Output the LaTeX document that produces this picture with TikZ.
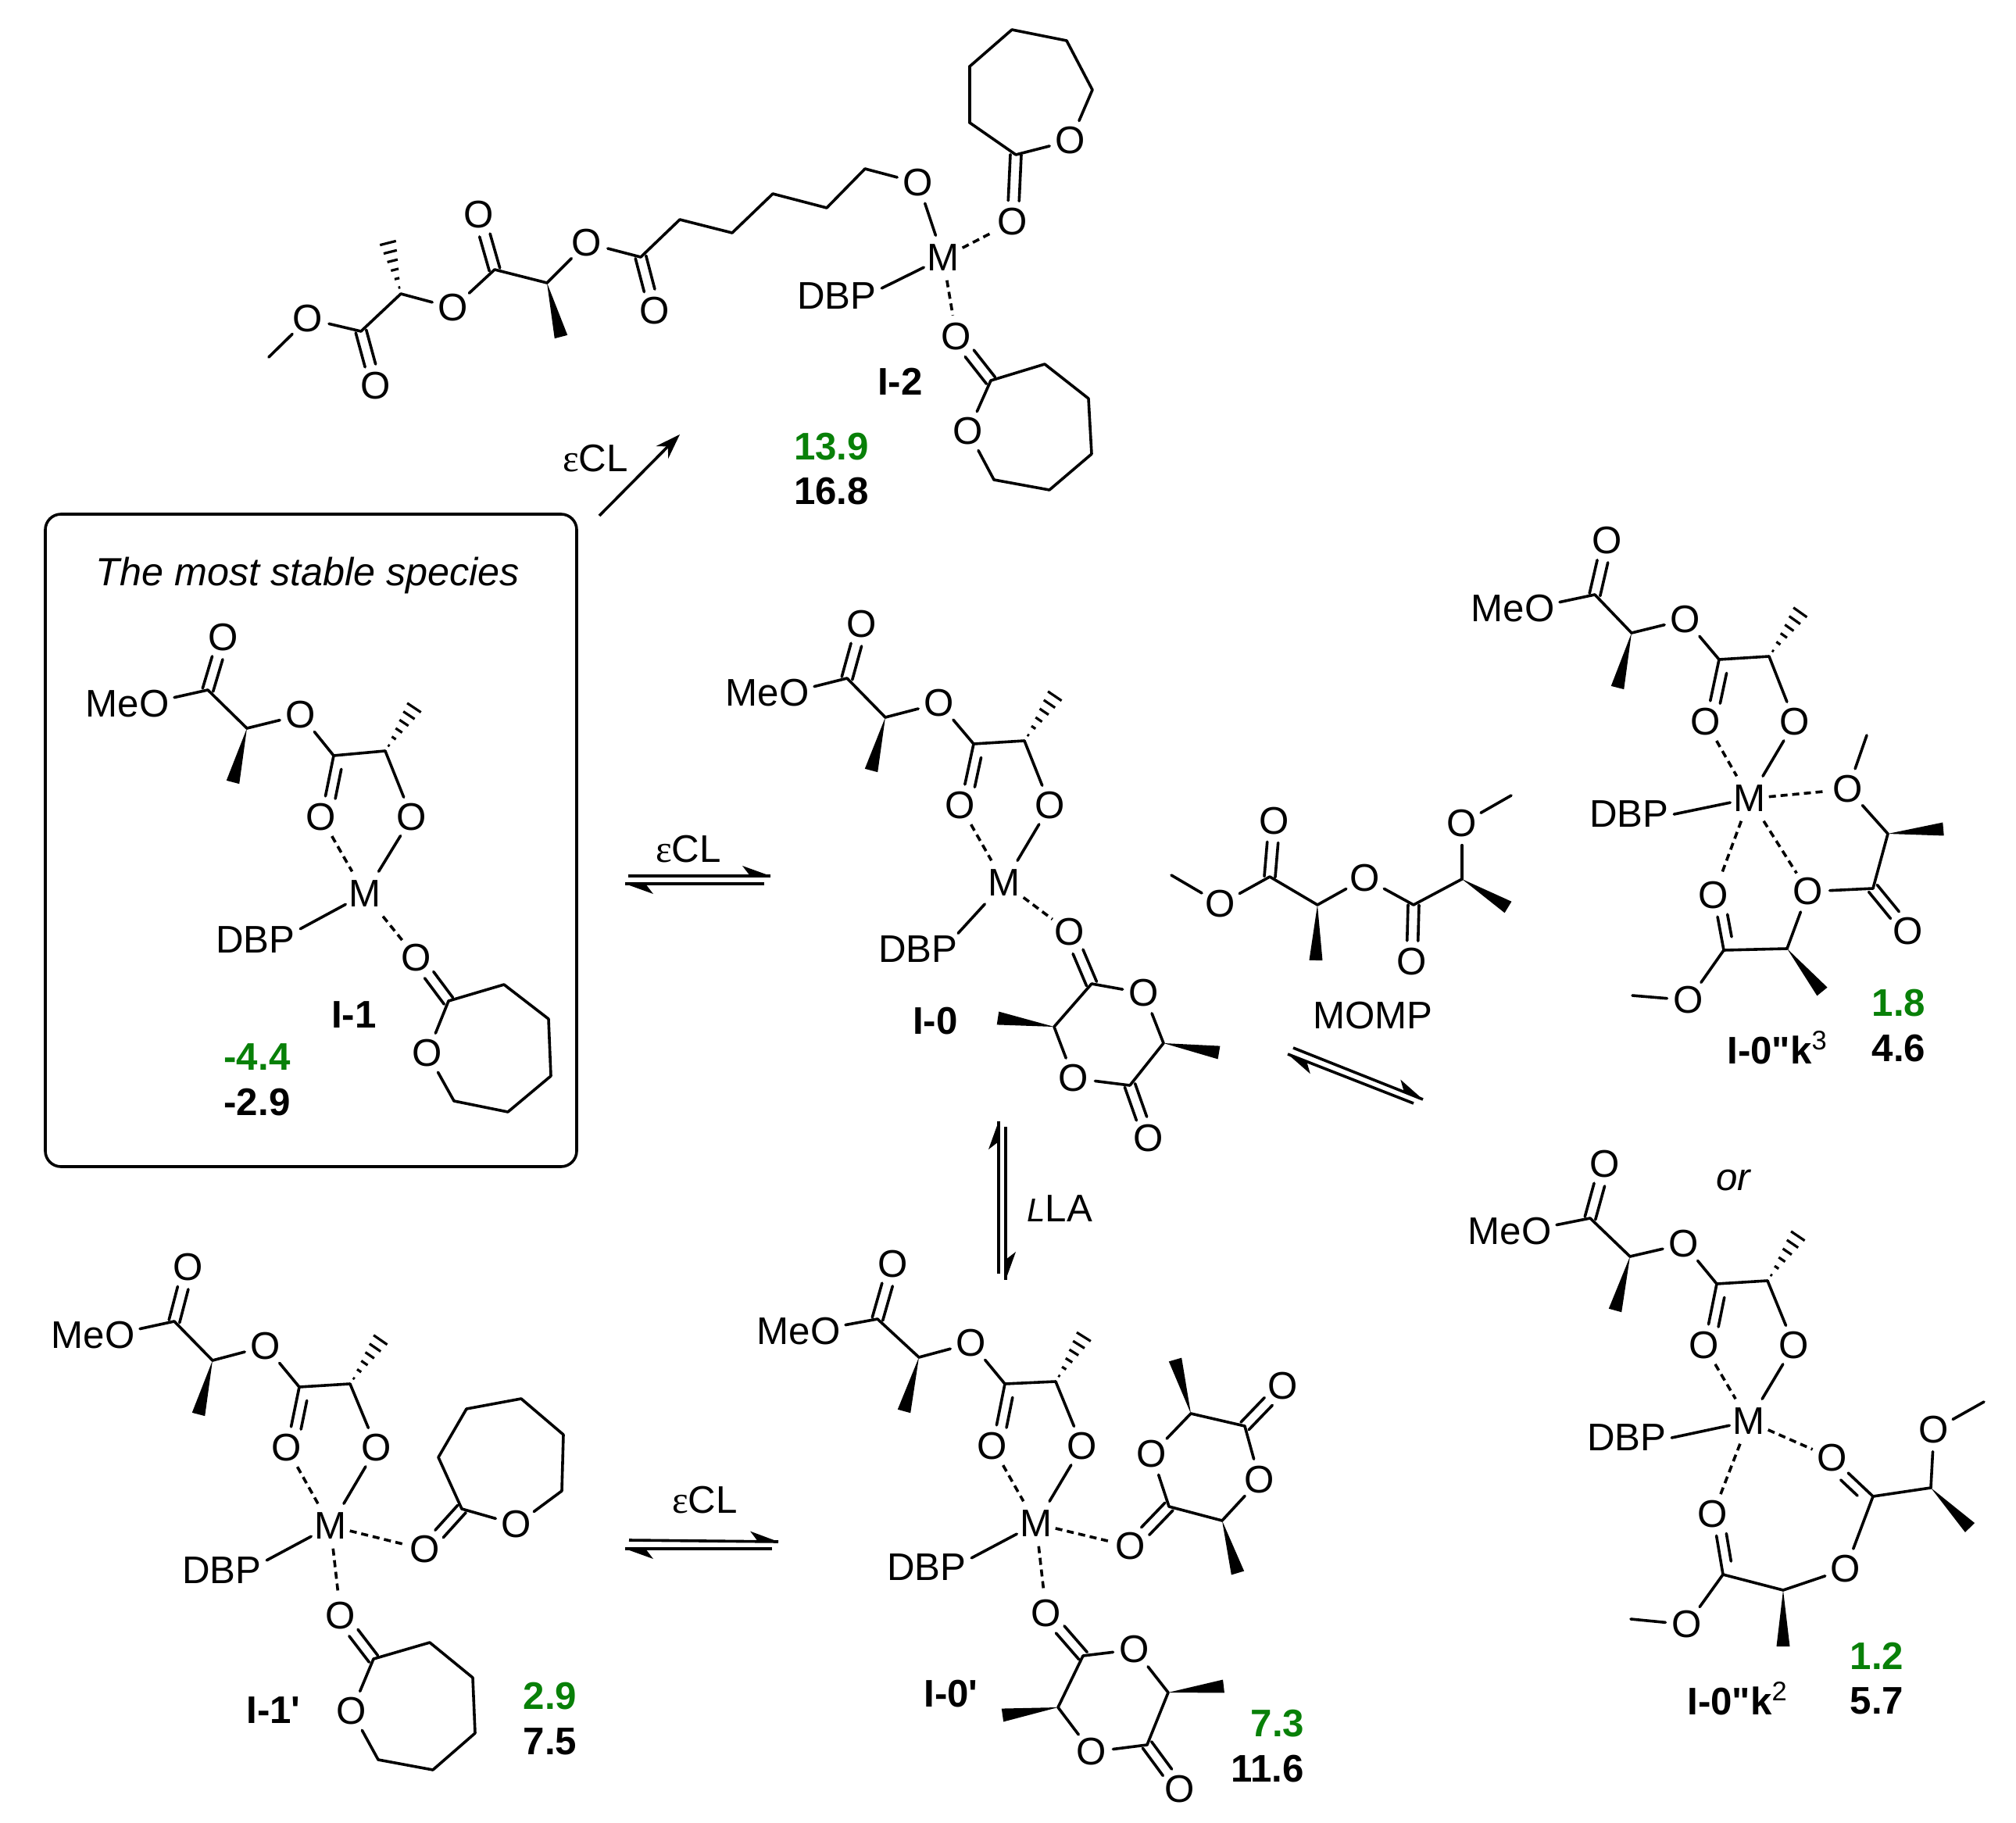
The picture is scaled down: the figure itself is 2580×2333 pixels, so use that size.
\documentclass[tikz,border=0pt]{standalone}
\usepackage{fontspec}
\usetikzlibrary{calc,arrows.meta}
\newfontfamily\lab{Liberation Sans}
\newfontfamily\greek{Liberation Serif}
\definecolor{enegreen}{RGB}{8,128,8}
\tikzset{
  txt/.style={font=\lab\fontsize{14}{16}\selectfont,inner sep=0pt},
  atomO/.style={txt,circle,minimum size=.54cm},
  atomM/.style={txt,rectangle,minimum width=.48cm,minimum height=.56cm},
  atomG/.style={txt,rectangle,inner xsep=.06cm,inner ysep=.03cm},
  bond/.style={line width=.036cm,line cap=round,line join=round},
  coord/.style={bond,dash pattern=on .09cm off .06cm,line cap=butt},
  arrowline/.style={line width=.036cm},
  lbl/.style={font=\lab\bfseries\fontsize{14}{16}\selectfont,inner sep=0pt},
  ene/.style={lbl,text=enegreen},
  plain/.style={txt},
  panel/.style={line width=.036cm,rounded corners=.2cm}
}
% carbon = a, oxygen = b, second line on a side given by the angle
\newcommand\dblO[3]{\draw[bond] (#1) -- (#2);
  \draw[bond] ($(#1)!.15cm!(#2)!.13cm!#3:(#2)$) -- ($(#2)!.27cm!(#1)!.13cm!-#3:(#1)$);}
% centred double bond
\newcommand\dblC[2]{%
  \draw[bond] ($(#1)!.07cm!90:(#2)$) -- ($(#2)!.27cm!(#1)!.07cm!-90:(#1)$);
  \draw[bond] ($(#1)!.07cm!-90:(#2)$) -- ($(#2)!.27cm!(#1)!.07cm!90:(#1)$);}
\newcommand\wdg[2]{\fill ($(#1)$) -- ($(#2)!.085cm!90:(#1)$) -- ($(#2)!.085cm!-90:(#1)$) -- cycle;}
\newcommand\hsh[2]{\foreach \t in {.12,.29,.46,.63,.80,.97}{
  \pgfmathsetmacro\w{\t*3.1}
  \draw[line width=.032cm] ($(#1)!\t!(#2)!\w pt!90:(#2)$) -- ($(#1)!\t!(#2)!\w pt!-90:(#2)$);}}
\newcommand\harp[2]{\draw[arrowline] (#1) -- (#2);
  \fill ($(#2)$) -- ($(#2)!.36cm!(#1)!.13cm!-90:(#1)$) -- ($(#2)!.26cm!(#1)$) -- cycle;}
\newcommand\bonds[1]{\foreach \a/\b in {#1}{\draw[bond] (\a) -- (\b);}}
\newcommand\oxy[1]{\foreach \n/\x/\y in {#1}{\node[atomO] (\n) at (\x,\y) {O};}}
\newcommand\cpts[1]{\foreach \n/\x/\y in {#1}{\coordinate (\n) at (\x,\y);}}
% the lactate arm that all but I-2 share: part one
\newcommand\headA[8]{%
  \node[atomO] (#1ot) at (#2) {O};
  \coordinate (#1c1) at (#3);
  \node[atomG] (#1meo) at (#4) {MeO};
  \coordinate (#1ca) at (#5);
  \coordinate (#1we) at (#6);
  \node[atomO] (#1o1) at (#7) {O};
  \coordinate (#1c2) at (#8);
  \draw[bond] (#1c1) -- (#1meo.8);
  \dblC{#1c1}{#1ot}
  \bonds{#1c1/#1ca,#1ca/#1o1,#1o1/#1c2}
  \wdg{#1ca}{#1we}}
% part two: the chelate on the metal
\newcommand\headB[8]{%
  \coordinate (#1cb) at (#2);
  \coordinate (#1ha) at (#3);
  \node[atomO] (#1od) at (#4) {O};
  \node[atomO] (#1oc) at (#5) {O};
  \node[atomM] (#1m) at (#6) {M};
  \node[atomG] (#1dbp) at (#7) {DBP};
  \dblO{#1c2}{#1od}{90}
  \bonds{#1c2/#1cb,#1cb/#1oc,#1oc/#1m}
  \draw[coord] (#1od) -- (#1m);
  \draw[bond] (#1m) -- (#1dbp.#8);
  \hsh{#1cb}{#1ha}}
\begin{document}
\begin{tikzpicture}[x=.01cm,y=-.01cm]
\useasboundingbox (0,0) rectangle (2580,2333);
\fill[white] (0,0) rectangle (2580,2333);

% ---------- I-2
\oxy{ao1/394/408,ao1d/481/494,ao2/580/394,ao2d/613/275,ao3/751/311,ao3d/838/398,ao4/1175/234,ao5/1296/284,ar1o/1370/180,ao6/1224/431,ar2o/1239/552}
\cpts{ame/344/457,ac1/462/424,aca/513/376,aha/496/309,ac2/633/345,acb/700/362,awe/718/431,ac3/820/329,ac4/870/281,ac5/937/298,ac6/989/248,ac7/1058/266,ac8/1107/216,ar1a/1300/198,ar1b/1241/157,ar1c/1241/85,ar1d/1295/38,ar1e/1365/52,ar1f/1398/115,ar2a/1268/487,ar2b/1337/466,ar2c/1393/510,ar2d/1397/581,ar2e/1343/627,ar2f/1272/614}
\node[atomM] (am) at (1207,330) {M};
\node[atomG] (adbp) at (1071,379) {DBP};
\bonds{ame/ao1,ao1/ac1,ac1/aca,aca/ao2,ao2/ac2,ac2/acb,acb/ao3,ao3/ac3,ac3/ac4,ac4/ac5,ac5/ac6,ac6/ac7,ac7/ac8,ac8/ao4,ao4/am,ar1a/ar1b,ar1b/ar1c,ar1c/ar1d,ar1d/ar1e,ar1e/ar1f,ar1f/ar1o,ar1o/ar1a,ar2a/ar2b,ar2b/ar2c,ar2c/ar2d,ar2d/ar2e,ar2e/ar2f,ar2f/ar2o,ar2o/ar2a}
\draw[bond] (am) -- (adbp.10);
\draw[coord] (am) -- (ao5);
\draw[coord] (am) -- (ao6);
\dblC{ac1}{ao1d}\dblC{ac2}{ao2d}\dblC{ac3}{ao3d}\dblC{ar1a}{ao5}\dblC{ar2a}{ao6}
\hsh{aca}{aha}\wdg{acb}{awe}
\node[lbl] (al) at (1152,488) {I-2};
\node[ene] (ag) at (1064,572) {13.9};
\node[lbl] (ak) at (1064,629) {16.8};

% arrow from the box to I-2
\coordinate (ar0) at (767,660);
\coordinate (ar1) at (870,556);
\draw[arrowline,-{Stealth[length=.32cm,width=.22cm]}] (ar0) -- (ar1);
\node[plain] (art) at (762,587) {{\greek ε}CL};

% ---------- box with I-1
\draw[panel] (58,658) rectangle (738,1493);
\node[txt,font=\lab\itshape\fontsize{14.3}{16}\selectfont] (title) at (394,736) {The most stable species};
\headA{b}{286,816}{266,883}{163,901}{316,932}{298,1001}{385,915}{427,967}
\headB{b}{493,961}{531,904}{411,1046}{527,1046}{467,1144}{327,1203}{14}
\oxy{bo5/533/1226,bro/547/1348}
\cpts{bra/574/1281,brb/645/1260,brc/702/1304,brd/705/1377,bre/650/1423,brf/581/1409}
\bonds{bra/brb,brb/brc,brc/brd,brd/bre,bre/brf,brf/bro,bro/bra}
\draw[coord] (bm) -- (bo5);
\dblC{bra}{bo5}
\node[lbl] (bl) at (453,1299) {I-1};
\node[ene] (bg) at (329,1353) {-4.4};
\node[lbl] (bk) at (329,1411) {-2.9};

% equilibrium I-1 / I-0
\node[plain] (e1t) at (881,1087) {{\greek ε}CL};
\coordinate (e1a) at (804,1121); \coordinate (e1b) at (986,1121);
\coordinate (e1c) at (978,1131); \coordinate (e1d) at (800,1131);
\harp{e1a}{e1b}\harp{e1c}{e1d}

% ---------- I-0
\headA{c}{1103,799}{1084,868}{982,887}{1133,918}{1115,986}{1202,900}{1246,952}
\headB{c}{1311,948}{1351,889}{1229,1031}{1344,1031}{1285,1130}{1175,1215}{22}
\oxy{co5/1369/1193,cr1/1464/1271,cr2/1374/1380,co7/1470/1457}
\cpts{cca/1397/1259,ccb/1489/1335,ccc/1446/1389,ccd/1349/1314,cwa/1560/1347,cwb/1277/1303}
\bonds{cca/cr1,cr1/ccb,ccb/ccc,ccc/cr2,cr2/ccd,ccd/cca}
\draw[coord] (cm) -- (co5);
\dblC{cca}{co5}\dblC{ccc}{co7}
\wdg{ccb}{cwa}\wdg{ccd}{cwb}
\node[lbl] (cl) at (1197,1307) {I-0};

% ---------- MOMP
\oxy{mo1/1562/1157,mo1d/1631/1051,mo2/1747/1124,mo2d/1807/1231,mo3/1871/1054}
\cpts{mme/1499/1120,mc1/1625/1122,mca/1686/1158,mwa/1684/1229,mc2/1809/1158,mcb/1871/1125,mwb/1930/1161,mme2/1934/1018}
\bonds{mme/mo1,mo1/mc1,mc1/mca,mca/mo2,mo2/mc2,mc2/mcb,mcb/mo3,mo3/mme2}
\dblC{mc1}{mo1d}\dblC{mc2}{mo2d}
\wdg{mca}{mwa}\wdg{mcb}{mwb}
\node[plain] (ml) at (1757,1300) {MOMP};

% equilibrium to MOMP products
\coordinate (e2a) at (1655,1341); \coordinate (e2b) at (1821,1407);
\coordinate (e2c) at (1809,1412); \coordinate (e2d) at (1648,1349);
\harp{e2a}{e2b}\harp{e2c}{e2d}

% equilibrium I-0 / I-0'
\coordinate (e3a) at (1278,1630); \coordinate (e3b) at (1278,1435);
\coordinate (e3c) at (1287,1442); \coordinate (e3d) at (1287,1638);
\harp{e3a}{e3b}\harp{e3c}{e3d}
\node[plain] (e3t) at (1356,1547) {{\fontsize{12}{12}\selectfont\itshape L}LA};

% ---------- I-0'
\headA{d}{1143,1618}{1123,1688}{1022,1704}{1176,1737}{1157,1806}{1243,1719}{1286,1771}
\headB{d}{1351,1768}{1388,1709}{1270,1851}{1385,1851}{1326,1950}{1186,2006}{12}
\oxy{do5/1447/1979,dr1/1474/1861,do6/1642/1774,dr2/1612/1894,do7/1339/2065,ds1/1452/2111,do8/1510/2290,ds2/1397/2242}
\cpts{daa/1496/1928,dab/1524/1809,dac/1593/1825,dad/1564/1946,dwa/1504/1740,dwb/1584/2013,dba/1386/2119,dbb/1495/2166,dbc/1468/2233,dbd/1354/2185,dwc/1566/2158,dwd/1283/2195}
\bonds{daa/dr1,dr1/dab,dab/dac,dac/dr2,dr2/dad,dad/daa,dba/ds1,ds1/dbb,dbb/dbc,dbc/ds2,ds2/dbd,dbd/dba}
\draw[coord] (dm) -- (do5);
\draw[coord] (dm) -- (do7);
\dblC{daa}{do5}\dblC{dac}{do6}\dblC{dba}{do7}\dblC{dbc}{do8}
\wdg{dab}{dwa}\wdg{dad}{dwb}\wdg{dbb}{dwc}\wdg{dbd}{dwd}
\node[lbl] (dl) at (1217,2168) {I-0'};
\node[ene] (dg) at (1635,2206) {7.3};
\node[lbl] (dk) at (1622,2264) {11.6};

% equilibrium I-1' / I-0'
\node[plain] (e4t) at (902,1920) {{\greek ε}CL};
\coordinate (e4a) at (805,1971); \coordinate (e4b) at (996,1973);
\coordinate (e4c) at (988,1982); \coordinate (e4d) at (800,1982);
\harp{e4a}{e4b}\harp{e4c}{e4d}

% ---------- I-1'
\headA{e}{241,1622}{223,1691}{119,1709}{272,1741}{254,1810}{340,1723}{383,1775}
\headB{e}{448,1771}{488,1713}{367,1853}{482,1853}{423,1953}{284,2010}{13}
\oxy{eo5/544/1983,ero/661/1951,eo6/436/2068,eso/450/2190}
\cpts{era/591/1931,erb/561/1865,erc/597/1803,erd/667/1790,ere/721/1836,erf/719/1908,esa/478/2123,esb/550/2102,esc/605/2147,esd/608/2218,ese/554/2265,esf/484/2252}
\bonds{era/erb,erb/erc,erc/erd,erd/ere,ere/erf,erf/ero,ero/era,esa/esb,esb/esc,esc/esd,esd/ese,ese/esf,esf/eso,eso/esa}
\draw[coord] (em) -- (eo5);
\draw[coord] (em) -- (eo6);
\dblC{era}{eo5}\dblC{esa}{eo6}
\node[lbl] (el) at (350,2189) {I-1'};
\node[ene] (eg) at (704,2171) {2.9};
\node[lbl] (ek) at (704,2229) {7.5};

% ---------- I-0''k3
\headA{f}{2057,692}{2041,761}{1936,779}{2088,810}{2070,880}{2157,793}{2200,844}
\headB{f}{2264,840}{2305,782}{2183,924}{2297,924}{2239,1022}{2085,1042}{0}
\oxy{fo3/2365/1010,fo4/2442/1192,fo5/2314/1141,fo6/2193/1146,fo7/2161/1280}
\cpts{fme/2389/941,fca/2416/1067,fwa/2487/1061,fcb/2397/1137,fcc/2206/1216,fcd/2287/1214,fwb/2332/1269,fme2/2089/1274}
\bonds{fme/fo3,fo3/fca,fca/fcb,fcb/fo5,fo5/fcd,fcd/fcc,fcc/fo7,fo7/fme2}
\draw[coord] (fm) -- (fo3);
\draw[coord] (fm) -- (fo5);
\draw[coord] (fm) -- (fo6);
\dblC{fcb}{fo4}
\dblO{fcc}{fo6}{-90}
\wdg{fca}{fwa}\wdg{fcd}{fwb}
\node[ene] (fg) at (2430,1284) {1.8};
\node[lbl] (fk) at (2430,1342) {4.6};
\node[lbl] (fl) at (2275,1341) {I-0"k\textsuperscript{\mdseries 3}};

\node[txt,font=\lab\itshape\fontsize{14}{16}\selectfont] (ortxt) at (2218,1510) {or};

% ---------- I-0''k2
\headA{g}{2054,1490}{2035,1559}{1932,1576}{2086,1608}{2067,1677}{2155,1592}{2197,1643}
\headB{g}{2262,1639}{2302,1580}{2181,1722}{2296,1722}{2238,1819}{2082,1840}{0}
\oxy{go3/2345/1866,go4/2475/1830,go5/2362/2008,go6/2192/1938,go7/2159/2079}
\cpts{gca/2397/1915,gcb/2471/1904,gwa/2521/1955,gme/2539/1794,gcc/2205/2015,gcd/2282/2035,gwb/2282/2107,gme2/2087/2072}
\bonds{gca/gcb,gcb/go4,go4/gme,gca/go5,go5/gcd,gcd/gcc,gcc/go7,go7/gme2}
\draw[coord] (gm) -- (go3);
\draw[coord] (gm) -- (go6);
\dblO{gca}{go3}{90}
\dblO{gcc}{go6}{-90}
\wdg{gcb}{gwa}\wdg{gcd}{gwb}
\node[ene] (gg) at (2402,2119) {1.2};
\node[lbl] (gk) at (2402,2177) {5.7};
\node[lbl] (gl) at (2224,2174) {I-0"k\textsuperscript{\mdseries 2}};
\end{tikzpicture}
\end{document}
